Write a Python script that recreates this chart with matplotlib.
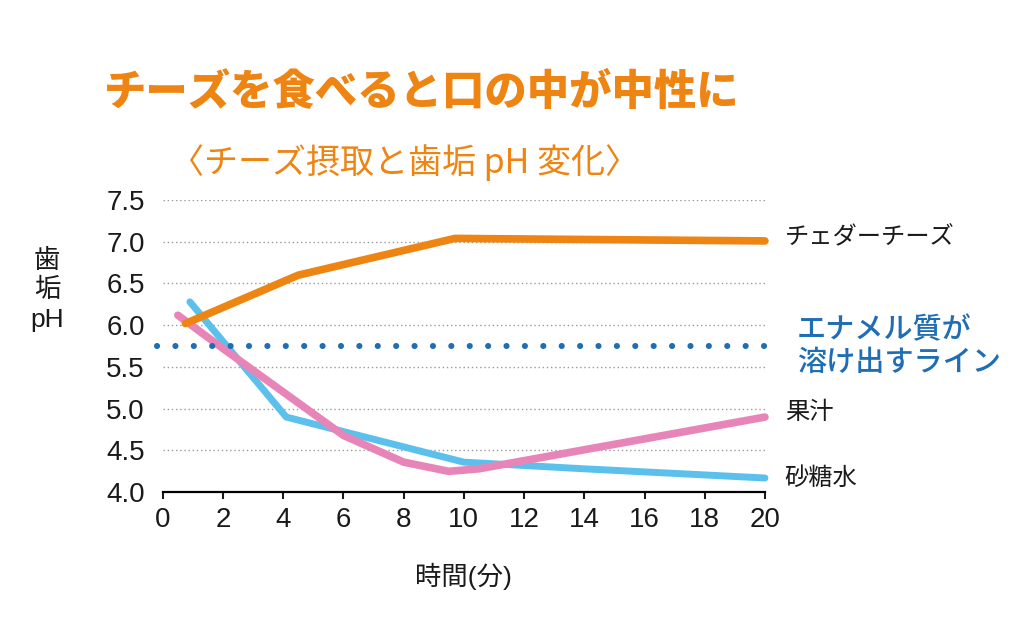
import matplotlib
matplotlib.use("Agg")
import matplotlib.pyplot as plt

plt.rcParams["font.family"] = ["Liberation Sans", "Noto Sans CJK JP"]

# 時間(分) と 歯垢 pH
cheese_t = [0.75, 4.5, 9.7, 20.0]
cheese_ph = [6.02, 6.60, 7.04, 7.01]

sugar_t = [0.9, 4.1, 10.0, 14.0, 20.0]
sugar_ph = [6.28, 4.90, 4.36, 4.28, 4.17]

juice_t = [0.5, 2.0, 4.0, 6.0, 8.0, 9.5, 10.5, 20.0]
juice_ph = [6.12, 5.72, 5.20, 4.68, 4.36, 4.25, 4.28, 4.90]

enamel_t = [-0.2, 20.0]
enamel_ph = [5.75, 5.75]

x_ticks = list(range(0, 21, 2))
y_ticks = [4.0, 4.5, 5.0, 5.5, 6.0, 6.5, 7.0, 7.5]

ORANGE = "#EE8412"
BLUE_L = "#5BC1EC"
PINK = "#E885B8"
BLUE_D = "#1E6DB5"
CJK = ["Noto Sans CJK JP", "DejaVu Sans"]

fig = plt.figure(figsize=(10.24, 6.27), dpi=100)
ax = fig.add_axes([0.159, 0.215, 0.588, 0.466])

ax.plot(sugar_t, sugar_ph, color=BLUE_L, lw=5.0, solid_capstyle="round",
        solid_joinstyle="round", zorder=3, clip_on=False)
ax.plot(juice_t, juice_ph, color=PINK, lw=5.5, solid_capstyle="round",
        solid_joinstyle="round", zorder=4, clip_on=False)
ax.plot(cheese_t, cheese_ph, color=ORANGE, lw=5.5, solid_capstyle="round",
        solid_joinstyle="round", zorder=5, clip_on=False)
ax.plot(enamel_t, enamel_ph, color=BLUE_D, lw=4.4, linestyle=(0, (0.01, 3.0)),
        dash_capstyle="round", zorder=6, clip_on=False)

ax.set_xlim(0, 20)
ax.set_ylim(4.0, 7.5)
ax.set_xticks(x_ticks)
ax.set_yticks(y_ticks)
ax.set_yticklabels([f"{v:.1f}" for v in y_ticks])
ax.tick_params(axis="x", direction="out", length=5, width=1.5,
               labelsize=20, pad=6, colors="#1a1a1a")
ax.tick_params(axis="y", length=0, labelsize=20, pad=13, colors="#1a1a1a")

for s in ["left", "right", "top"]:
    ax.spines[s].set_visible(False)
ax.spines["bottom"].set_linewidth(1.6)
ax.spines["bottom"].set_zorder(7)

ax.yaxis.grid(True, color="#9a9a9a", linestyle=(0, (1, 2)), linewidth=1.0)
ax.set_axisbelow(True)

ax.set_xlabel("時間(分)", fontsize=19, labelpad=21, color="#1a1a1a")

# 系列ラベル
ax.text(20.66, 7.04, "チェダーチーズ", fontsize=17.5, va="center", ha="left",
        color="#1a1a1a", clip_on=False)
ax.text(20.66, 4.95, "果汁", fontsize=17.5, va="center", ha="left",
        color="#1a1a1a", clip_on=False)
ax.text(20.66, 4.16, "砂糖水", fontsize=17.5, va="center", ha="left",
        color="#1a1a1a", clip_on=False)
ax.text(21.05, 5.74, "エナメル質が\n溶け出すライン", fontsize=21, va="center",
        ha="left", color=BLUE_D, fontweight="medium", linespacing=1.2,
        clip_on=False)

fig.text(0.046, 0.537, "歯\n垢\npH", fontsize=19, ha="center", va="center",
         linespacing=1.3, color="#1a1a1a")

fig.text(0.102, 0.853, "チーズを食べると口の中が中性に", fontsize=30.5,
         fontweight="heavy", color=ORANGE, ha="left", va="center",
         family=CJK)
fig.text(0.166, 0.740, "〈チーズ摂取と歯垢 pH 変化〉", fontsize=24.5,
         color=ORANGE, ha="left", va="center", family=CJK)

fig.savefig("out.png", dpi=100)
